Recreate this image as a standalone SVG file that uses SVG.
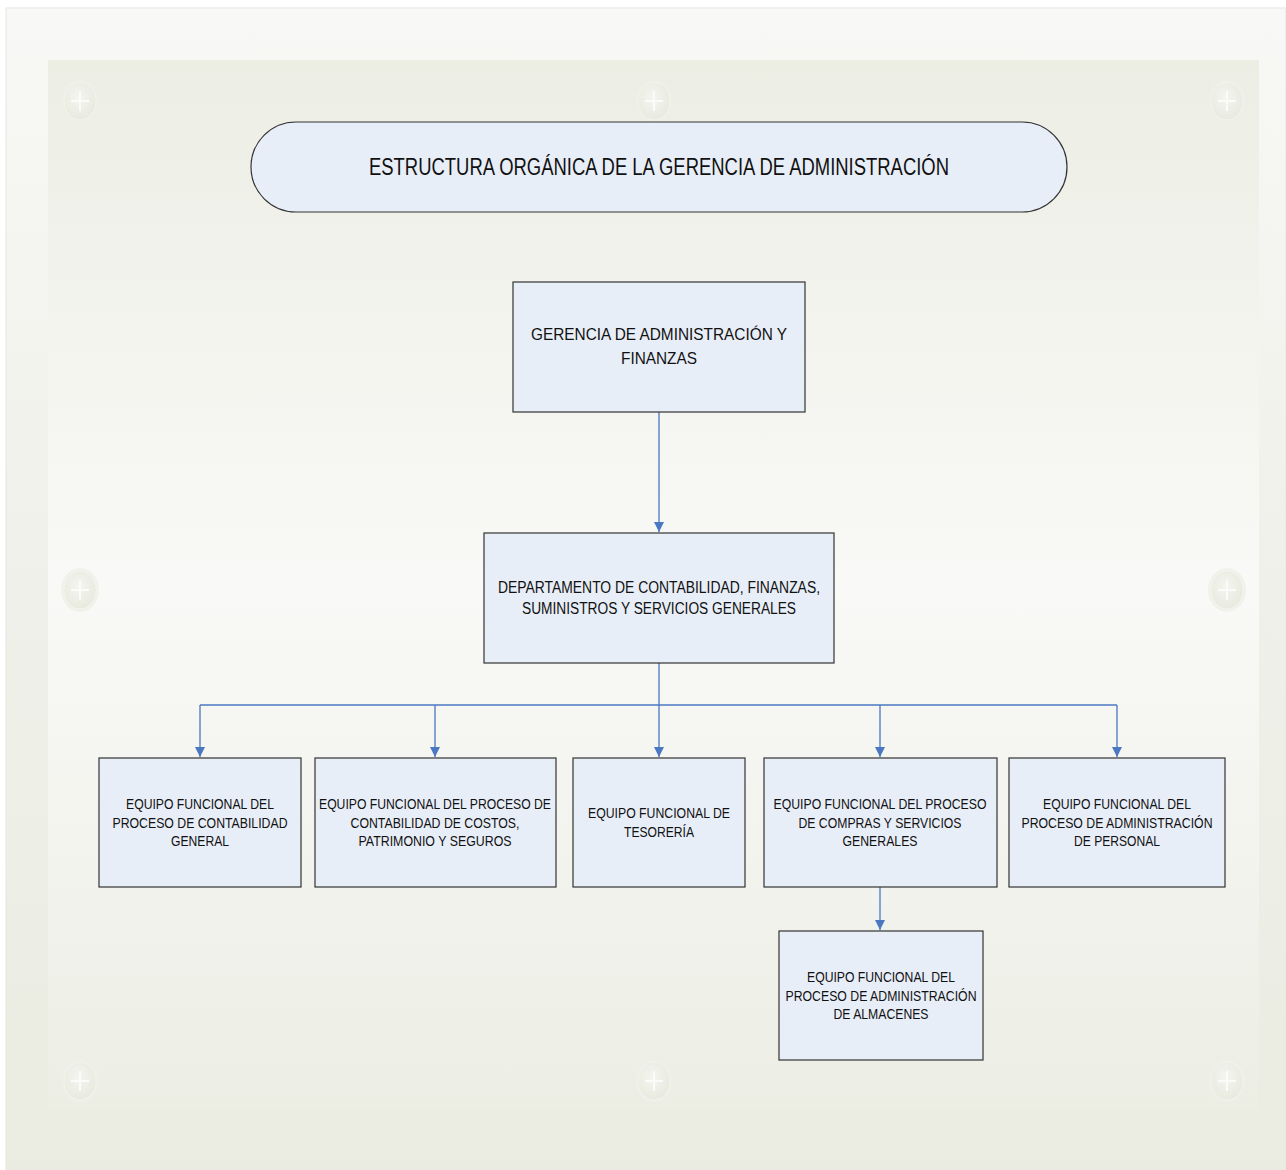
<svg xmlns="http://www.w3.org/2000/svg" width="1286" height="1170" viewBox="0 0 1286 1170">
<defs>
<linearGradient id="gOuter" x1="0" y1="0" x2="0" y2="1">
<stop offset="0" stop-color="#f8f8f6"/>
<stop offset="0.5" stop-color="#eff0e9"/>
<stop offset="1" stop-color="#eaece1"/>
</linearGradient>
<linearGradient id="gInner" x1="0" y1="0" x2="0" y2="1">
<stop offset="0" stop-color="#eceee4"/>
<stop offset="0.5" stop-color="#f9f9f7"/>
<stop offset="1" stop-color="#eceee4"/>
</linearGradient>
<radialGradient id="gBtn" cx="0.45" cy="0.4" r="0.7">
<stop offset="0" stop-color="#f4f5ef"/>
<stop offset="1" stop-color="#e6e8dc"/>
</radialGradient>
<marker id="arr" viewBox="0 0 10 10" refX="10" refY="5" markerWidth="10" markerHeight="10" markerUnits="userSpaceOnUse" orient="auto">
<path d="M0,0 L10,5 L0,10 z" fill="#4a78c2"/>
</marker>
<g id="btn">
<ellipse cx="0" cy="0" rx="19" ry="22" fill="#eef0e7" opacity="0.8"/>
<ellipse cx="0" cy="0" rx="16" ry="19" fill="url(#gBtn)" stroke="#f3f4ee" stroke-width="1"/>
<path d="M-9,0 H9 M0,-10 V10" stroke="#fbfbf9" stroke-width="2"/>
</g>
</defs>
<style>
.box{fill:#e8eef8;stroke:#333333;stroke-width:1.2}
.t{font-family:"Liberation Sans",Arial,sans-serif;fill:#111111;text-anchor:middle}
.s{font-size:15px}
.m{font-size:17px}
.c{fill:none;stroke:#4a78c2;stroke-width:1.3}
</style>
<rect x="0" y="0" width="1286" height="1170" fill="#ffffff"/>
<rect x="6" y="8" width="1280" height="1162" fill="url(#gOuter)" stroke="#e6e6e2" stroke-width="1"/>
<rect x="48" y="60" width="1211" height="1050" fill="url(#gInner)"/>
<g id="decor">
<use href="#btn" x="80" y="101"/>
<use href="#btn" x="654" y="101"/>
<use href="#btn" x="1227" y="101"/>
<use href="#btn" x="80" y="590"/>
<use href="#btn" x="1227" y="590"/>
<use href="#btn" x="80" y="1081"/>
<use href="#btn" x="654" y="1081"/>
<use href="#btn" x="1227" y="1081"/>
</g>
<g id="connectors">
<path class="c" d="M659,412 V532" marker-end="url(#arr)"/>
<path class="c" d="M659,663 V705"/>
<path class="c" d="M200,705 H1117"/>
<path class="c" d="M200,705 V757" marker-end="url(#arr)"/>
<path class="c" d="M435,705 V757" marker-end="url(#arr)"/>
<path class="c" d="M659,705 V757" marker-end="url(#arr)"/>
<path class="c" d="M880,705 V757" marker-end="url(#arr)"/>
<path class="c" d="M1117,705 V757" marker-end="url(#arr)"/>
<path class="c" d="M880,887 V930" marker-end="url(#arr)"/>
</g>
<g id="title">
<rect class="box" x="251" y="122" width="816" height="90" rx="45" ry="45"/>
<text class="t" x="659" y="175" font-size="23" textLength="580" lengthAdjust="spacingAndGlyphs">ESTRUCTURA ORGÁNICA DE LA GERENCIA DE ADMINISTRACIÓN</text>
</g>
<g id="gerencia">
<rect class="box" x="513" y="282" width="292" height="130"/>
<text class="t m" x="659" y="340" textLength="256" lengthAdjust="spacingAndGlyphs">GERENCIA DE ADMINISTRACIÓN Y</text>
<text class="t m" x="659" y="364" textLength="76" lengthAdjust="spacingAndGlyphs">FINANZAS</text>
</g>
<g id="departamento">
<rect class="box" x="484" y="533" width="350" height="130"/>
<text class="t" x="659" y="593" font-size="16" textLength="322" lengthAdjust="spacingAndGlyphs">DEPARTAMENTO DE CONTABILIDAD, FINANZAS,</text>
<text class="t" x="659" y="614" font-size="16" textLength="274" lengthAdjust="spacingAndGlyphs">SUMINISTROS Y SERVICIOS GENERALES</text>
</g>
<g id="contabilidad-general">
<rect class="box" x="99" y="758" width="202" height="129"/>
<text class="t s" x="200" y="809" textLength="148" lengthAdjust="spacingAndGlyphs">EQUIPO FUNCIONAL DEL</text>
<text class="t s" x="200" y="828" textLength="175" lengthAdjust="spacingAndGlyphs">PROCESO DE CONTABILIDAD</text>
<text class="t s" x="200" y="846" textLength="58" lengthAdjust="spacingAndGlyphs">GENERAL</text>
</g>
<g id="costos">
<rect class="box" x="315" y="758" width="241" height="129"/>
<text class="t s" x="435" y="809" textLength="232" lengthAdjust="spacingAndGlyphs">EQUIPO FUNCIONAL DEL PROCESO DE</text>
<text class="t s" x="435" y="828" textLength="169" lengthAdjust="spacingAndGlyphs">CONTABILIDAD DE COSTOS,</text>
<text class="t s" x="435" y="846" textLength="153" lengthAdjust="spacingAndGlyphs">PATRIMONIO Y SEGUROS</text>
</g>
<g id="tesoreria">
<rect class="box" x="573" y="758" width="172" height="129"/>
<text class="t s" x="659" y="818" textLength="142" lengthAdjust="spacingAndGlyphs">EQUIPO FUNCIONAL DE</text>
<text class="t s" x="659" y="837" textLength="70" lengthAdjust="spacingAndGlyphs">TESORERÍA</text>
</g>
<g id="compras">
<rect class="box" x="764" y="758" width="233" height="129"/>
<text class="t s" x="880" y="809" textLength="213" lengthAdjust="spacingAndGlyphs">EQUIPO FUNCIONAL DEL PROCESO</text>
<text class="t s" x="880" y="828" textLength="163" lengthAdjust="spacingAndGlyphs">DE COMPRAS Y SERVICIOS</text>
<text class="t s" x="880" y="846" textLength="75" lengthAdjust="spacingAndGlyphs">GENERALES</text>
</g>
<g id="personal">
<rect class="box" x="1009" y="758" width="216" height="129"/>
<text class="t s" x="1117" y="809" textLength="148" lengthAdjust="spacingAndGlyphs">EQUIPO FUNCIONAL DEL</text>
<text class="t s" x="1117" y="828" textLength="191" lengthAdjust="spacingAndGlyphs">PROCESO DE ADMINISTRACIÓN</text>
<text class="t s" x="1117" y="846" textLength="86" lengthAdjust="spacingAndGlyphs">DE PERSONAL</text>
</g>
<g id="almacenes">
<rect class="box" x="779" y="931" width="204" height="129"/>
<text class="t s" x="881" y="982" textLength="148" lengthAdjust="spacingAndGlyphs">EQUIPO FUNCIONAL DEL</text>
<text class="t s" x="881" y="1001" textLength="191" lengthAdjust="spacingAndGlyphs">PROCESO DE ADMINISTRACIÓN</text>
<text class="t s" x="881" y="1019" textLength="95" lengthAdjust="spacingAndGlyphs">DE ALMACENES</text>
</g>
</svg>
